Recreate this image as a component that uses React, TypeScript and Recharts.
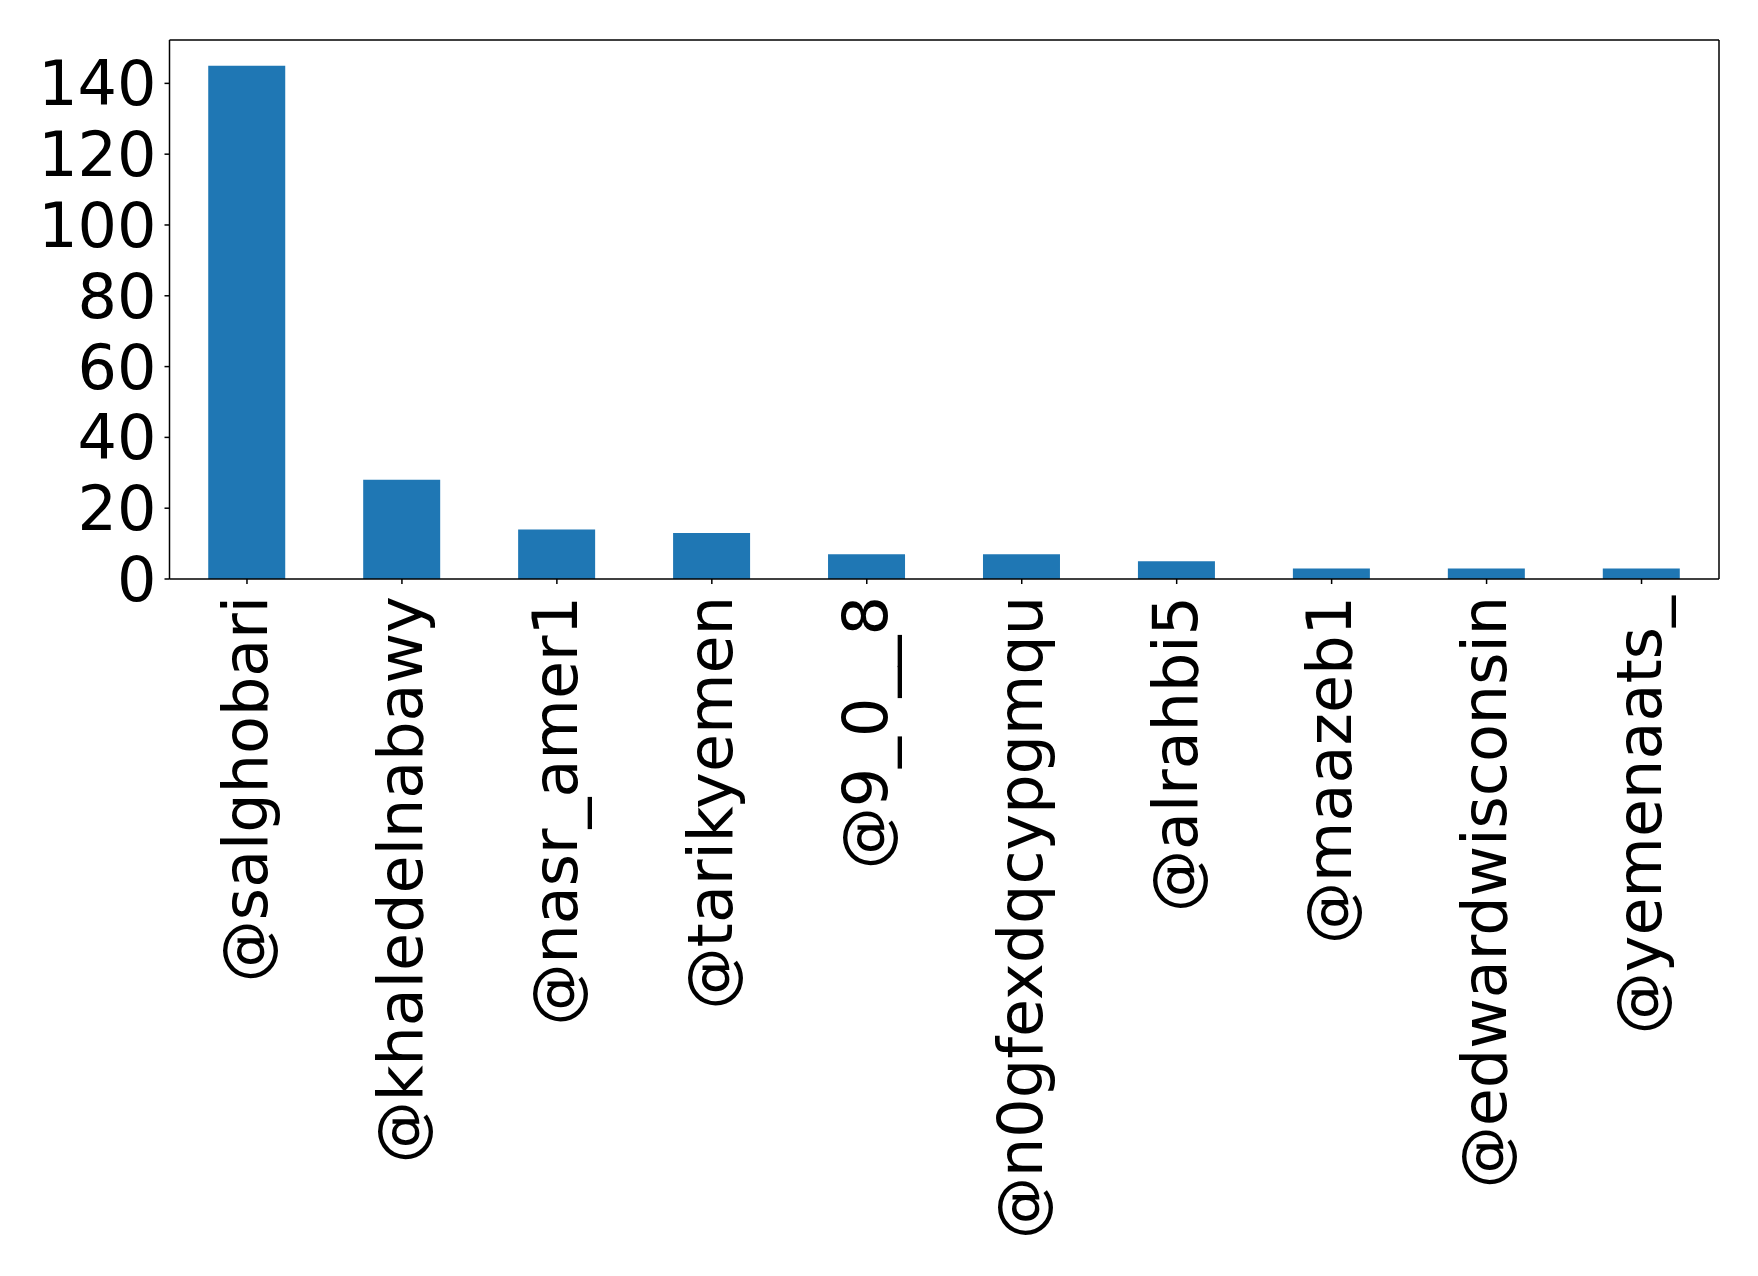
import { Bar, ComposedChart, Line, XAxis, YAxis } from "recharts";

const handles = [
  "@salghobari",
  "@khaledelnabawy",
  "@nasr_amer1",
  "@tarikyemen",
  "@9_0__8",
  "@n0gfexdqcypgmqu",
  "@alrahbi5",
  "@maazeb1",
  "@edwardwisconsin",
  "@yemenaats_",
];
const counts = [145, 28, 14, 13, 7, 7, 5, 3, 3, 3];
const yTicks = [0, 20, 40, 60, 80, 100, 120, 140];

const data = handles.map((name, i) => ({ name, count: counts[i] }));

const FONT = "DejaVu Sans";
const AXIS = { stroke: "#000", strokeWidth: 1.5 };
const Y_DOMAIN: [number, number] = [0, 152.25];

function HandleTick(props: any) {
  const { x, y, payload } = props;
  return (
    <g transform={`translate(${x},${y})`}>
      <text
        transform="rotate(-90)"
        textAnchor="end"
        dy="0.32em"
        fontFamily={FONT}
        fontSize={62}
        fill="#000"
      >
        {payload.value}
      </text>
    </g>
  );
}

export default function App() {
  return (
    <div style={{ position: "absolute", left: 0, top: 0, background: "#fff" }}>
      <ComposedChart
        width={1758}
        height={1276}
        data={data}
        margin={{ top: 39, right: 38, bottom: 7, left: 19.5 }}
        barCategoryGap="25%"
      >
        <XAxis
          dataKey="name"
          interval={0}
          height={690}
          tickSize={5}
          tickMargin={12}
          tickLine={AXIS}
          axisLine={AXIS}
          tick={<HandleTick />}
        />
        {/* top + right spines to close the frame (size 0 axes are skipped) */}
        <XAxis
          xAxisId="top"
          dataKey="name"
          orientation="top"
          height={1}
          tick={false}
          tickLine={false}
          axisLine={AXIS}
        />
        <YAxis
          type="number"
          domain={Y_DOMAIN}
          ticks={yTicks}
          interval={0}
          width={150}
          tickSize={5}
          tickMargin={8}
          tickLine={AXIS}
          axisLine={AXIS}
          tick={{ fontFamily: FONT, fontSize: 62, fill: "#000" }}
        />
        <YAxis
          yAxisId="right"
          orientation="right"
          type="number"
          domain={Y_DOMAIN}
          width={1}
          tick={false}
          tickLine={false}
          axisLine={AXIS}
        />
        <Bar dataKey="count" fill="#1f77b4" isAnimationActive={false} />
        <Line
          xAxisId="top"
          yAxisId="right"
          dataKey="count"
          stroke="none"
          dot={false}
          activeDot={false}
          legendType="none"
          isAnimationActive={false}
        />
      </ComposedChart>
    </div>
  );
}
